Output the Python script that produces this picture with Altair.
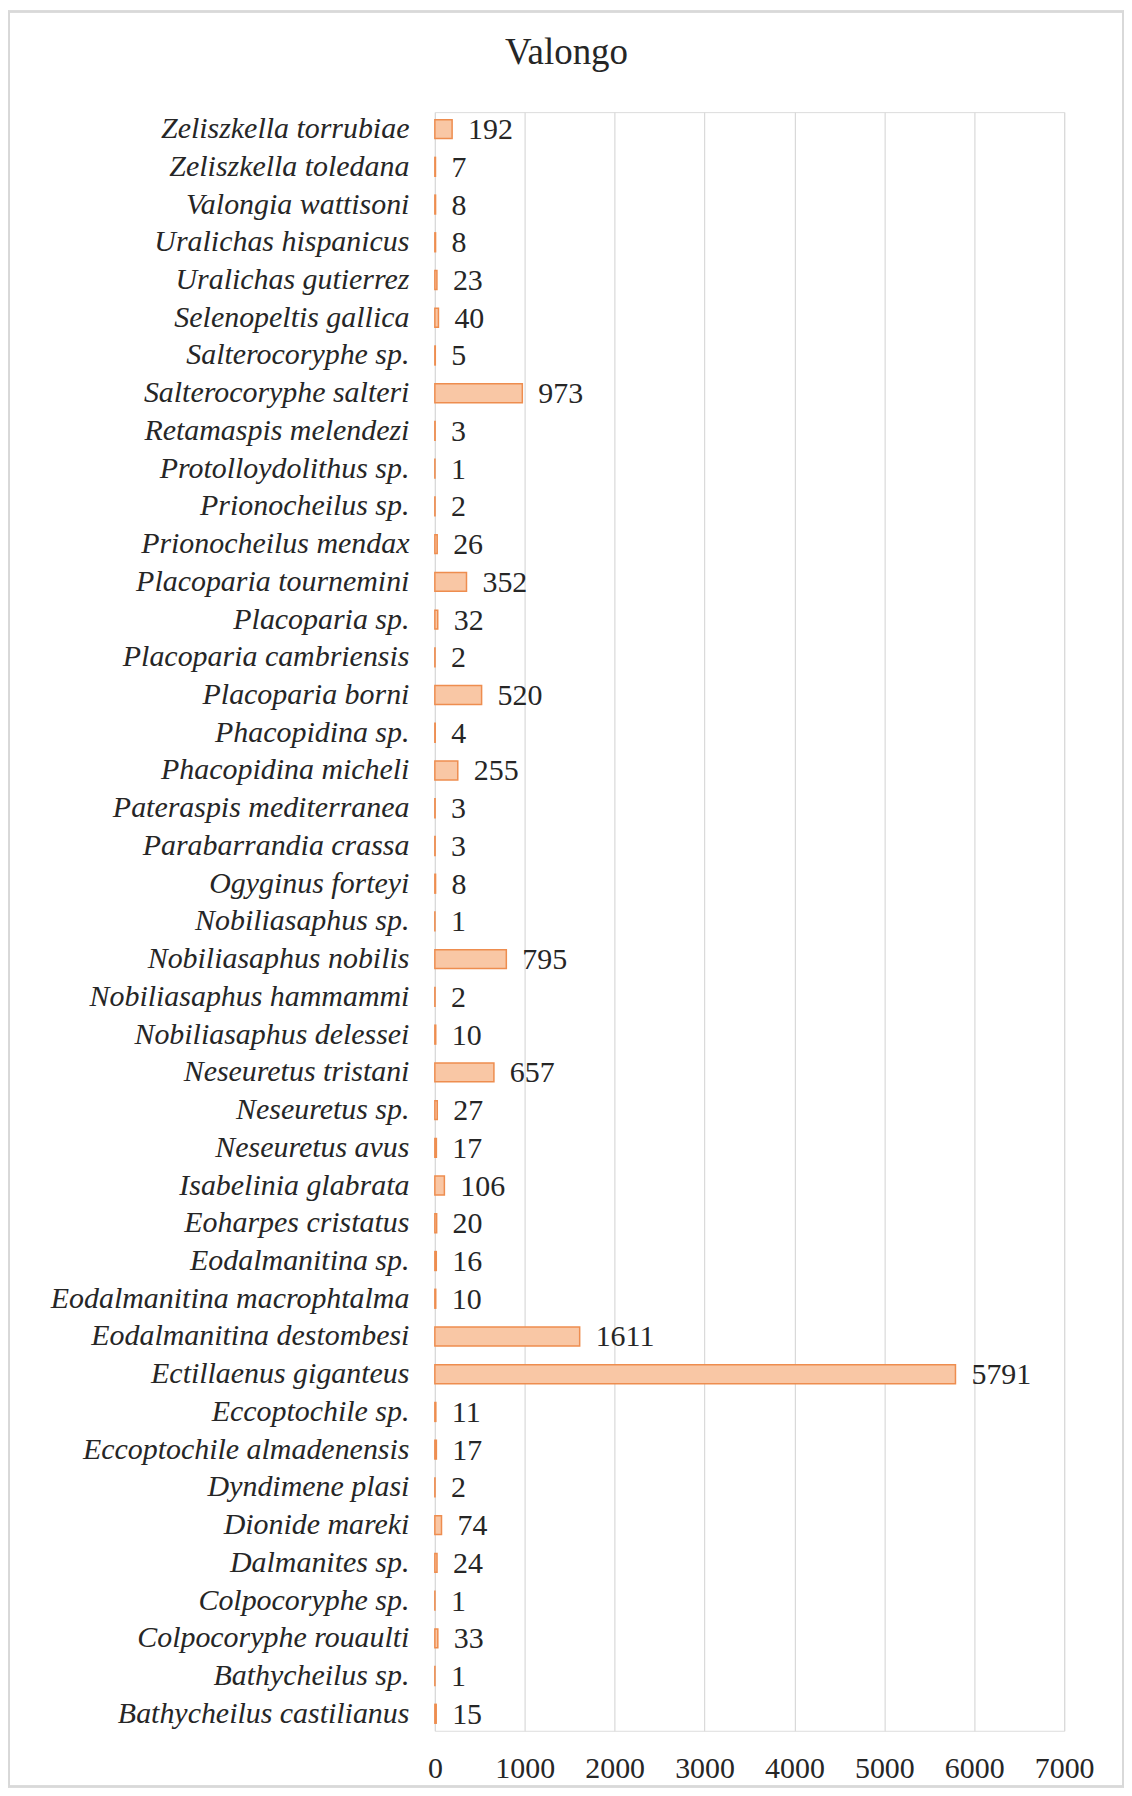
import altair as alt
import pandas as pd

title_text = "Valongo"
species = [
    "Zeliszkella torrubiae", "Zeliszkella toledana", "Valongia wattisoni",
    "Uralichas hispanicus", "Uralichas gutierrez", "Selenopeltis gallica",
    "Salterocoryphe sp.", "Salterocoryphe salteri", "Retamaspis melendezi",
    "Protolloydolithus sp.", "Prionocheilus sp.", "Prionocheilus mendax",
    "Placoparia tournemini", "Placoparia sp.", "Placoparia cambriensis",
    "Placoparia borni", "Phacopidina sp.", "Phacopidina micheli",
    "Pateraspis mediterranea", "Parabarrandia crassa", "Ogyginus forteyi",
    "Nobiliasaphus sp.", "Nobiliasaphus nobilis", "Nobiliasaphus hammammi",
    "Nobiliasaphus delessei", "Neseuretus tristani", "Neseuretus sp.",
    "Neseuretus avus", "Isabelinia glabrata", "Eoharpes cristatus",
    "Eodalmanitina sp.", "Eodalmanitina macrophtalma", "Eodalmanitina destombesi",
    "Ectillaenus giganteus", "Eccoptochile sp.", "Eccoptochile almadenensis",
    "Dyndimene plasi", "Dionide mareki", "Dalmanites sp.", "Colpocoryphe sp.",
    "Colpocoryphe rouaulti", "Bathycheilus sp.", "Bathycheilus castilianus",
]
counts = [
    192, 7, 8, 8, 23, 40, 5, 973, 3, 1, 2, 26, 352, 32, 2, 520, 4, 255, 3, 3,
    8, 1, 795, 2, 10, 657, 27, 17, 106, 20, 16, 10, 1611, 5791, 11, 17, 2, 74,
    24, 1, 33, 1, 15,
]
x_ticks = [0, 1000, 2000, 3000, 4000, 5000, 6000, 7000]

df = pd.DataFrame({"species": species, "count": counts})

FONT = "Liberation Serif"
TXT = "#262626"

y_enc = alt.Y("species:N", sort=species,
              scale=alt.Scale(paddingInner=0.5, paddingOuter=0.2),
              axis=alt.Axis(title=None, labelFont=FONT, labelFontStyle="italic",
                            labelFontSize=30, labelColor=TXT, labelLimit=600,
                            labelPadding=26, ticks=False, domain=False, grid=False))
x_enc = alt.X("count:Q", scale=alt.Scale(domain=[0, 7000], nice=False),
              axis=alt.Axis(title=None, values=x_ticks, labelFont=FONT,
                            labelFontSize=30, labelColor=TXT, labelPadding=23,
                            labelFlush=False, labelOverlap=False,
                            ticks=False, domain=False, grid=True,
                            gridColor="#d9d9d9", gridWidth=1.2, format="d"))

bars = alt.Chart(df).mark_bar(fill="#f9c7a5", stroke="#ee8d4f", strokeWidth=1.5).encode(
    x=x_enc, y=y_enc)

labels = alt.Chart(df).mark_text(align="left", baseline="middle", dx=16, dy=1,
                                 font=FONT, fontSize=30, color=TXT).encode(
    x="count:Q", y=alt.Y("species:N", sort=species), text="count:Q")

frame = alt.Chart(df).mark_rect(fill=None, stroke="#d9d9d9", strokeWidth=1.5).encode(
    x=alt.value(-427), x2=alt.value(690), y=alt.value(-101), y2=alt.value(1679))

title = alt.Chart(pd.DataFrame({"t": [title_text]})).mark_text(
    align="center", baseline="alphabetic", font=FONT, fontSize=37, color=TXT
).encode(x=alt.value(132), y=alt.value(-48), text="t:N")

chart = alt.layer(frame, bars, labels, title).properties(
    width=631, height=1623,
    padding={"left": 428, "top": 102, "right": 60, "bottom": 55},
    autosize=alt.AutoSizeParams(type="none"),
).configure_view(stroke=None).configure(background="white")

chart.save("out.html", embed_options={"renderer": "svg", "actions": False})
